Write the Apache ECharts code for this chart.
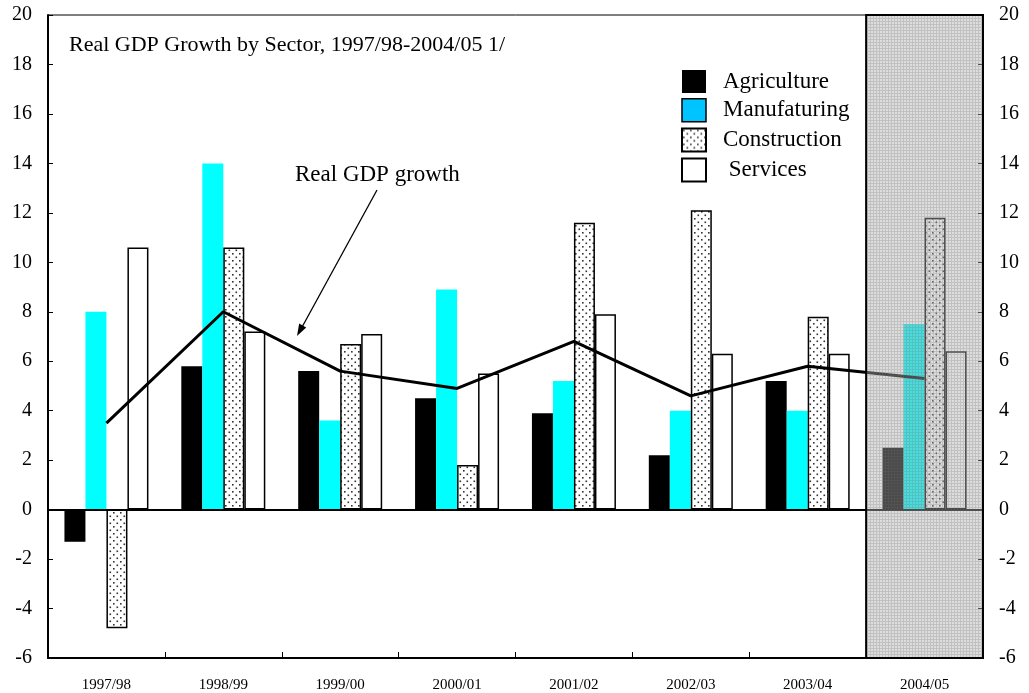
<!DOCTYPE html>
<html>
<head>
<meta charset="utf-8">
<script src="https://cdn.jsdelivr.net/npm/echarts@6/dist/echarts.min.js"></script>
<style>
  html, body { margin: 0; padding: 0; background: #fff; }
  #chart { width: 1029px; height: 693px; }
</style>
</head>
<body>
<div id="chart"></div>
<script>
// data
const years = ['1997/98', '1998/99', '1999/00', '2000/01', '2001/02', '2002/03', '2003/04', '2004/05']
const agriculture = [-1.3, 5.8, 5.6, 4.5, 3.9, 2.2, 5.2, 2.5]
const manufacturing = [8.0, 14.0, 3.6, 8.9, 5.2, 4.0, 4.0, 7.5]
const construction = [-4.8, 10.6, 6.7, 1.8, 11.6, 12.1, 7.8, 11.8]
const services = [10.6, 7.2, 7.1, 5.5, 7.9, 6.3, 6.3, 6.4]
const gdpGrowth = [3.5, 8.0, 5.6, 4.9, 6.8, 4.6, 5.8, 5.3]
const shadedYears = ['2004/05'] // projection, greyed out
const yMin = -6
const yMax = 20
const yStep = 2

const serif = "'Liberation Serif', 'Times New Roman', serif"

// dotted fill for construction
function dotPattern() {
  const c = document.createElement('canvas')
  c.width = 7
  c.height = 7
  const ctx = c.getContext('2d')
  ctx.fillStyle = '#fff'
  ctx.fillRect(0, 0, 7, 7)
  ctx.fillStyle = '#333'
  ctx.fillRect(1, 1, 1.6, 1.6)
  ctx.fillRect(4.5, 4.5, 1.6, 1.6)
  return { image: c, repeat: 'repeat' }
}

// grey screen laid over the last year
function screenPattern() {
  const c = document.createElement('canvas')
  c.width = 3
  c.height = 3
  const ctx = c.getContext('2d')
  ctx.fillStyle = 'rgba(175,175,175,0.42)'
  ctx.fillRect(0, 0, 3, 3)
  ctx.fillStyle = 'rgba(110,110,110,0.25)'
  ctx.fillRect(0, 0, 3, 1)
  ctx.fillRect(0, 1, 1, 2)
  return { image: c, repeat: 'repeat' }
}

const chart = echarts.init(document.getElementById('chart'))

const yAxisBase = {
  type: 'value',
  min: yMin,
  max: yMax,
  interval: yStep,
  splitLine: { show: false },
  axisLine: { show: true, lineStyle: { color: '#000', width: 2 } },
  axisTick: { show: true, inside: true, length: 5, lineStyle: { color: '#000' } },
  axisLabel: { color: '#000', fontFamily: serif, fontSize: 20, margin: 16 }
}

const option = {
  animation: false,
  backgroundColor: '#fff',
  title: {
    text: 'Real GDP Growth by Sector, 1997/98-2004/05 1/',
    left: 64,
    top: 29,
    textStyle: { fontFamily: serif, fontSize: 22, fontWeight: 'normal', color: '#000' }
  },
  legend: {
    orient: 'vertical',
    left: 676,
    top: 65,
    itemWidth: 24,
    itemHeight: 23,
    itemGap: 5,
    formatter: (name) => (name === 'Services' ? ' ' + name : name),
    textStyle: { fontFamily: serif, fontSize: 23, color: '#000', padding: [0, 0, 0, 12] },
    data: [
      { name: 'Agriculture', icon: 'rect' },
      { name: 'Manufaturing', icon: 'rect', itemStyle: { color: '#00c4ff', borderColor: '#000', borderWidth: 1.5 } },
      { name: 'Construction', icon: 'rect' },
      { name: 'Services', icon: 'rect' }
    ]
  },
  grid: {
    left: 48,
    right: 46,
    top: 15,
    bottom: 35,
    show: true,
    borderColor: '#000',
    borderWidth: 1
  },
  xAxis: {
    type: 'category',
    data: years,
    axisLine: { onZero: false, lineStyle: { color: '#000', width: 2 } },
    axisTick: { show: true, inside: true, length: 6, lineStyle: { color: '#000' } },
    axisLabel: { color: '#000', fontFamily: serif, fontSize: 15, margin: 20 }
  },
  yAxis: [
    { ...yAxisBase, position: 'left' },
    { ...yAxisBase, position: 'right' }
  ],
  series: [
    {
      name: 'Agriculture',
      type: 'bar',
      data: agriculture,
      barWidth: 21,
      barGap: '0%',
      itemStyle: { color: '#000' },
      markLine: {
        silent: true,
        symbol: ['none', 'none'],
        label: { show: false },
        lineStyle: { color: '#000', width: 2, type: 'solid' },
        data: [{ yAxis: 0 }]
      }
    },
    {
      name: 'Manufaturing',
      type: 'bar',
      data: manufacturing,
      barWidth: 21,
      barGap: '0%',
      itemStyle: { color: '#00ffff' }
    },
    {
      name: 'Construction',
      type: 'bar',
      data: construction,
      barWidth: 21,
      barGap: '0%',
      itemStyle: { color: dotPattern(), borderColor: '#000', borderWidth: 1.5 }
    },
    {
      name: 'Services',
      type: 'bar',
      data: services,
      barWidth: 21,
      barGap: '0%',
      itemStyle: { color: '#fff', borderColor: '#000', borderWidth: 1.5 }
    },
    {
      name: 'Real GDP growth',
      type: 'line',
      data: gdpGrowth,
      symbol: 'none',
      z: 5,
      lineStyle: { color: '#000', width: 3 }
    },
    {
      // grey screen over the projected year
      type: 'custom',
      z: 10,
      silent: true,
      data: shadedYears.map((y) => [y]),
      encode: { x: 0 },
      renderItem: (params, api) => {
        const top = api.coord([api.value(0), yMax])
        const bottom = api.coord([api.value(0), yMin])
        const w = api.size([1, 0])[0]
        return {
          type: 'rect',
          shape: { x: top[0] - w / 2, y: top[1], width: w, height: bottom[1] - top[1] },
          style: { fill: screenPattern(), stroke: '#000', lineWidth: 2 }
        }
      }
    }
  ],
  graphic: [
    {
      type: 'text',
      left: 295,
      top: 163,
      style: { text: 'Real GDP growth', font: '23px ' + serif, fill: '#000' }
    },
    {
      type: 'line',
      shape: { x1: 377, y1: 190, x2: 301, y2: 329 },
      style: { stroke: '#000', lineWidth: 1.3 }
    },
    {
      type: 'polygon',
      shape: { points: [[297, 336], [306.2, 327.4], [299.2, 323.6]] },
      style: { fill: '#000' }
    }
  ]
}

chart.setOption(option)

window.addEventListener('resize', () => {
  chart.resize()
})
</script>
</body>
</html>
